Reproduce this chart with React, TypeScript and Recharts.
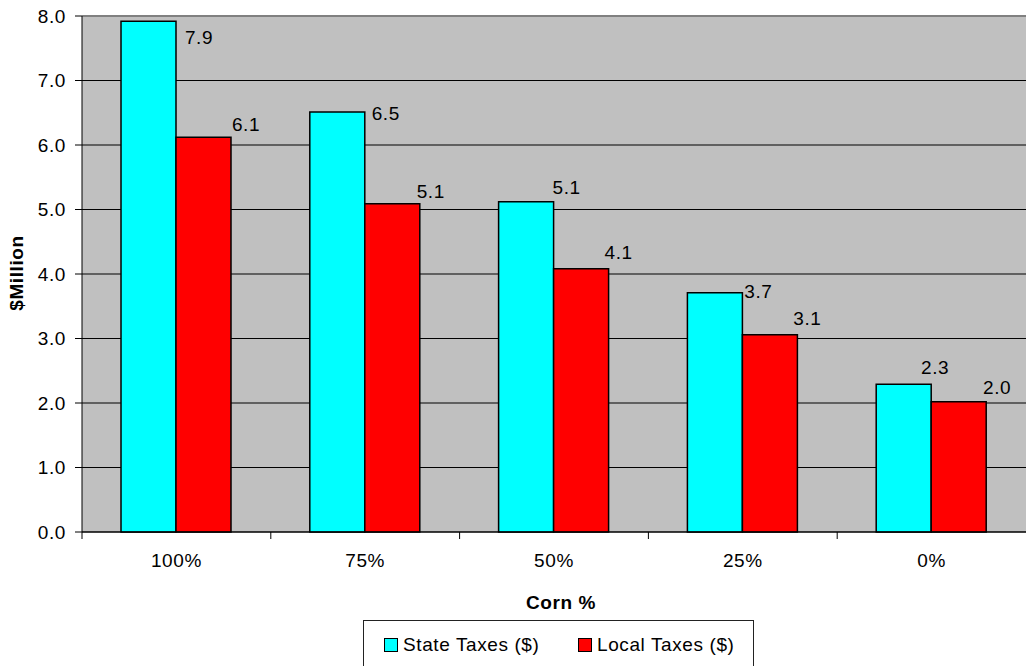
import { Bar, BarChart, CartesianGrid, LabelList, Legend, ReferenceLine, XAxis, YAxis } from "recharts";

const categories = ["100%", "75%", "50%", "25%", "0%"];
const stateTaxes = [7.92, 6.51, 5.12, 3.71, 2.29];
const localTaxes = [6.12, 5.09, 4.08, 3.06, 2.02];
const yTicks = [0, 1, 2, 3, 4, 5, 6, 7, 8];

const data = categories.map((corn, i) => ({ corn, state: stateTaxes[i], local: localTaxes[i] }));

// label nudges: [dx from bar's right edge, dy from bar top] as in the original sheet
const stateNudge = [[23, 16], [21, 1], [13, -14], [16, -1], [4, -17]];
const localNudge = [[15, -13], [11, -12], [10, -16], [10, -16], [11, -14]];

const FONT = "'Liberation Sans', Arial, sans-serif";
const FS = 19;
const LS = 0.6;
const HALF_BAND = (1026 - 82) / categories.length / 2;

function makeLabel(nudge: number[][]) {
  return (props: any) => {
    const { x, y, width, value, index } = props;
    const [dx, dy] = nudge[index] ?? [10, -14];
    return (
      <text
        x={x + width + dx}
        y={y + dy}
        textAnchor="middle"
        dominantBaseline="central"
        fontSize={FS}
        letterSpacing={LS}
        fill="#000"
        fontFamily={FONT}
      >
        {Number(value).toFixed(1)}
      </text>
    );
  };
}

function CornTick(props: any) {
  const { x, y, payload } = props;
  return (
    <g>
      <line x1={x - HALF_BAND} x2={x - HALF_BAND} y1={y} y2={y + 7} stroke="#000" strokeWidth={1} />
      <text x={x} y={y + 22} dy="0.71em" textAnchor="middle" fontSize={FS} letterSpacing={LS} fill="#000" fontFamily={FONT}>
        {payload.value}
      </text>
    </g>
  );
}

function LegendBox() {
  const item = (left: number, color: string, label: string) => (
    <div key={label} style={{ position: "absolute", left, top: 14, height: 20, display: "flex", alignItems: "center", whiteSpace: "nowrap" }}>
      <span
        style={{
          display: "inline-block",
          boxSizing: "border-box",
          width: 14,
          height: 14,
          background: color,
          border: "1.5px solid #000",
          marginRight: 5,
        }}
      />
      <span>{label}</span>
    </div>
  );
  return (
    <div
      style={{
        position: "relative",
        boxSizing: "border-box",
        width: 391,
        height: 60,
        border: "1px solid #222",
        fontFamily: FONT,
        fontSize: FS,
        letterSpacing: LS,
        color: "#000",
        lineHeight: "20px",
        textAlign: "left",
        margin: 0,
        padding: 0,
      }}
    >
      {item(20, "#00ffff", "State Taxes ($)")}
      {item(214, "#ff0000", "Local Taxes ($)")}
    </div>
  );
}

export default function App() {
  return (
    <div style={{ position: "absolute", left: 0, top: 0, width: 1026, height: 666, overflow: "hidden", background: "#fff" }}>
      <BarChart
        width={1026}
        height={666}
        data={data}
        margin={{ top: 16, right: 0, left: 0, bottom: 104 }}
        barSize={55}
        barGap={0}
      >
        <CartesianGrid horizontal vertical={false} stroke="#000" strokeOpacity={1} fill="#c0c0c0" fillOpacity={1} />
        <XAxis
          dataKey="corn"
          height={30}
          axisLine={{ stroke: "#000", strokeWidth: 1 }}
          tickLine={false}
          tickSize={0}
          tickMargin={0}
          interval={0}
          tick={<CornTick />}
          label={{
            content: () => (
              <text x={561} y={602} textAnchor="middle" dominantBaseline="central" fontSize={FS} fontWeight="bold" letterSpacing={LS} fontFamily={FONT} fill="#000">
                Corn %
              </text>
            ),
          }}
        />
        <YAxis
          width={82}
          domain={[0, 8]}
          ticks={yTicks}
          interval={0}
          tickFormatter={(v: number) => v.toFixed(1)}
          axisLine={{ stroke: "#000", strokeWidth: 1 }}
          tickLine={{ stroke: "#000" }}
          tickSize={7}
          tickMargin={9}
          tick={{ fill: "#000", fontSize: FS, fontFamily: FONT, letterSpacing: LS }}
          label={{
            content: () => (
              <text
                x={16}
                y={273}
                transform="rotate(-90 16 273)"
                textAnchor="middle"
                dominantBaseline="central"
                fontSize={FS}
                fontWeight="bold"
                letterSpacing={LS}
                fontFamily={FONT}
                fill="#000"
              >
                $Million
              </text>
            ),
          }}
        />
        <ReferenceLine y={8} stroke="#808080" strokeWidth={2} />
        <Legend
          layout="horizontal"
          verticalAlign="middle"
          content={() => <LegendBox />}
          wrapperStyle={{ left: 363, top: 620, width: 391, height: 60 }}
        />
        <Bar dataKey="state" name="State Taxes ($)" fill="#00ffff" stroke="#000" strokeWidth={1.5} isAnimationActive={false}>
          <LabelList dataKey="state" content={makeLabel(stateNudge)} />
        </Bar>
        <Bar dataKey="local" name="Local Taxes ($)" fill="#ff0000" stroke="#000" strokeWidth={1.5} isAnimationActive={false}>
          <LabelList dataKey="local" content={makeLabel(localNudge)} />
        </Bar>
      </BarChart>
    </div>
  );
}
